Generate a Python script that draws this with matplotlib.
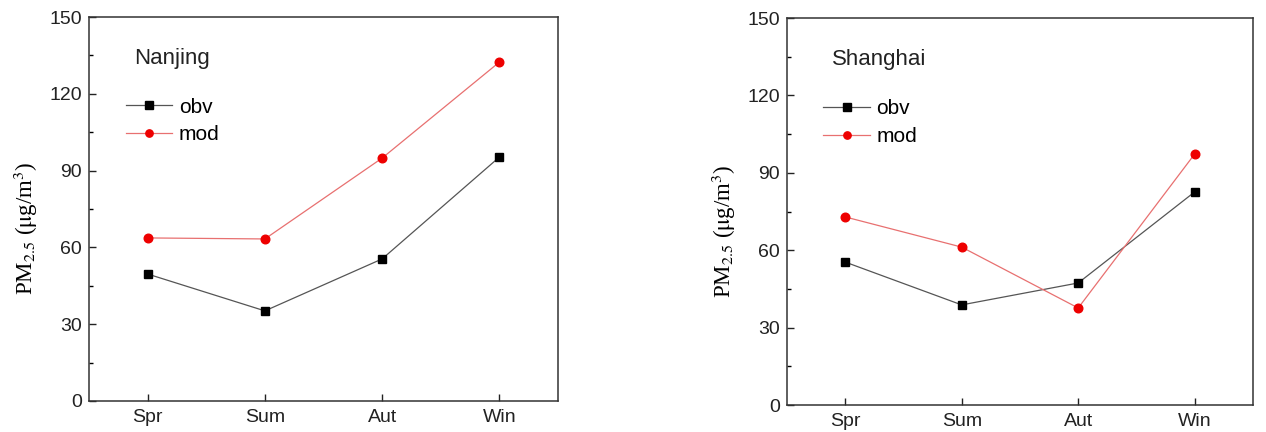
import matplotlib
matplotlib.use('Agg')
import matplotlib.pyplot as plt
from matplotlib.ticker import MultipleLocator

seasons = ['Spr', 'Sum', 'Aut', 'Win']

nj_obv = [49.6, 35.2, 55.5, 95.3]
nj_mod = [63.7, 63.3, 94.9, 132.4]
sh_obv = [55.4, 38.8, 47.3, 82.6]
sh_mod = [72.9, 61.2, 37.6, 97.3]

plt.rcParams['font.family'] = ['Liberation Sans', 'DejaVu Sans']
plt.rcParams['mathtext.fontset'] = 'stix'

fig = plt.figure(figsize=(12.66, 4.32), dpi=100)
ax1 = fig.add_axes([0.0703, 0.0718, 0.3705, 0.8888])
ax2 = fig.add_axes([0.6216, 0.0625, 0.3681, 0.8958])


def draw(ax, city, obv, mod):
	x = range(len(seasons))
	ax.plot(x, obv, color='#555555', lw=0.9, marker='s', ms=6,
		mfc='black', mec='black', label='obv')
	ax.plot(x, mod, color='#e87070', lw=0.9, marker='o', ms=6.2,
		mfc='#ee0000', mec='#ee0000', label='mod')
	ax.set_xlim(-0.5, 3.5)
	ax.set_ylim(0, 150)
	ax.set_xticks(list(x))
	ax.set_xticklabels(seasons)
	ax.yaxis.set_major_locator(MultipleLocator(30))
	ax.yaxis.set_minor_locator(MultipleLocator(15))
	ax.tick_params(direction='in', labelsize=14, length=5, width=1, colors='#222222')
	ax.tick_params(which='minor', direction='in', length=3, width=1)
	ax.tick_params(axis='x', pad=6)
	ax.tick_params(axis='y', pad=5)
	for s in ax.spines.values():
		s.set_linewidth(1.1)
		s.set_color('#333333')
	ax.set_ylabel(r'PM$_{2.5}$ ($\mathrm{\mu}$g/m$^3$)', family='Liberation Serif',
		fontsize=16.5)
	ax.yaxis.set_label_coords(-0.104, 0.45)
	ax.text(0.096, 0.893, city, transform=ax.transAxes, fontsize=16,
		color='#222222', va='center')
	ax.legend(loc='upper left', bbox_to_anchor=(0.078, 0.79), frameon=False,
		fontsize=15, handlelength=2.25, handletextpad=0.3, labelspacing=0.42,
		borderaxespad=0, borderpad=0, markerscale=0.85)


draw(ax1, 'Nanjing', nj_obv, nj_mod)
draw(ax2, 'Shanghai', sh_obv, sh_mod)

fig.savefig('out.png', dpi=100)
